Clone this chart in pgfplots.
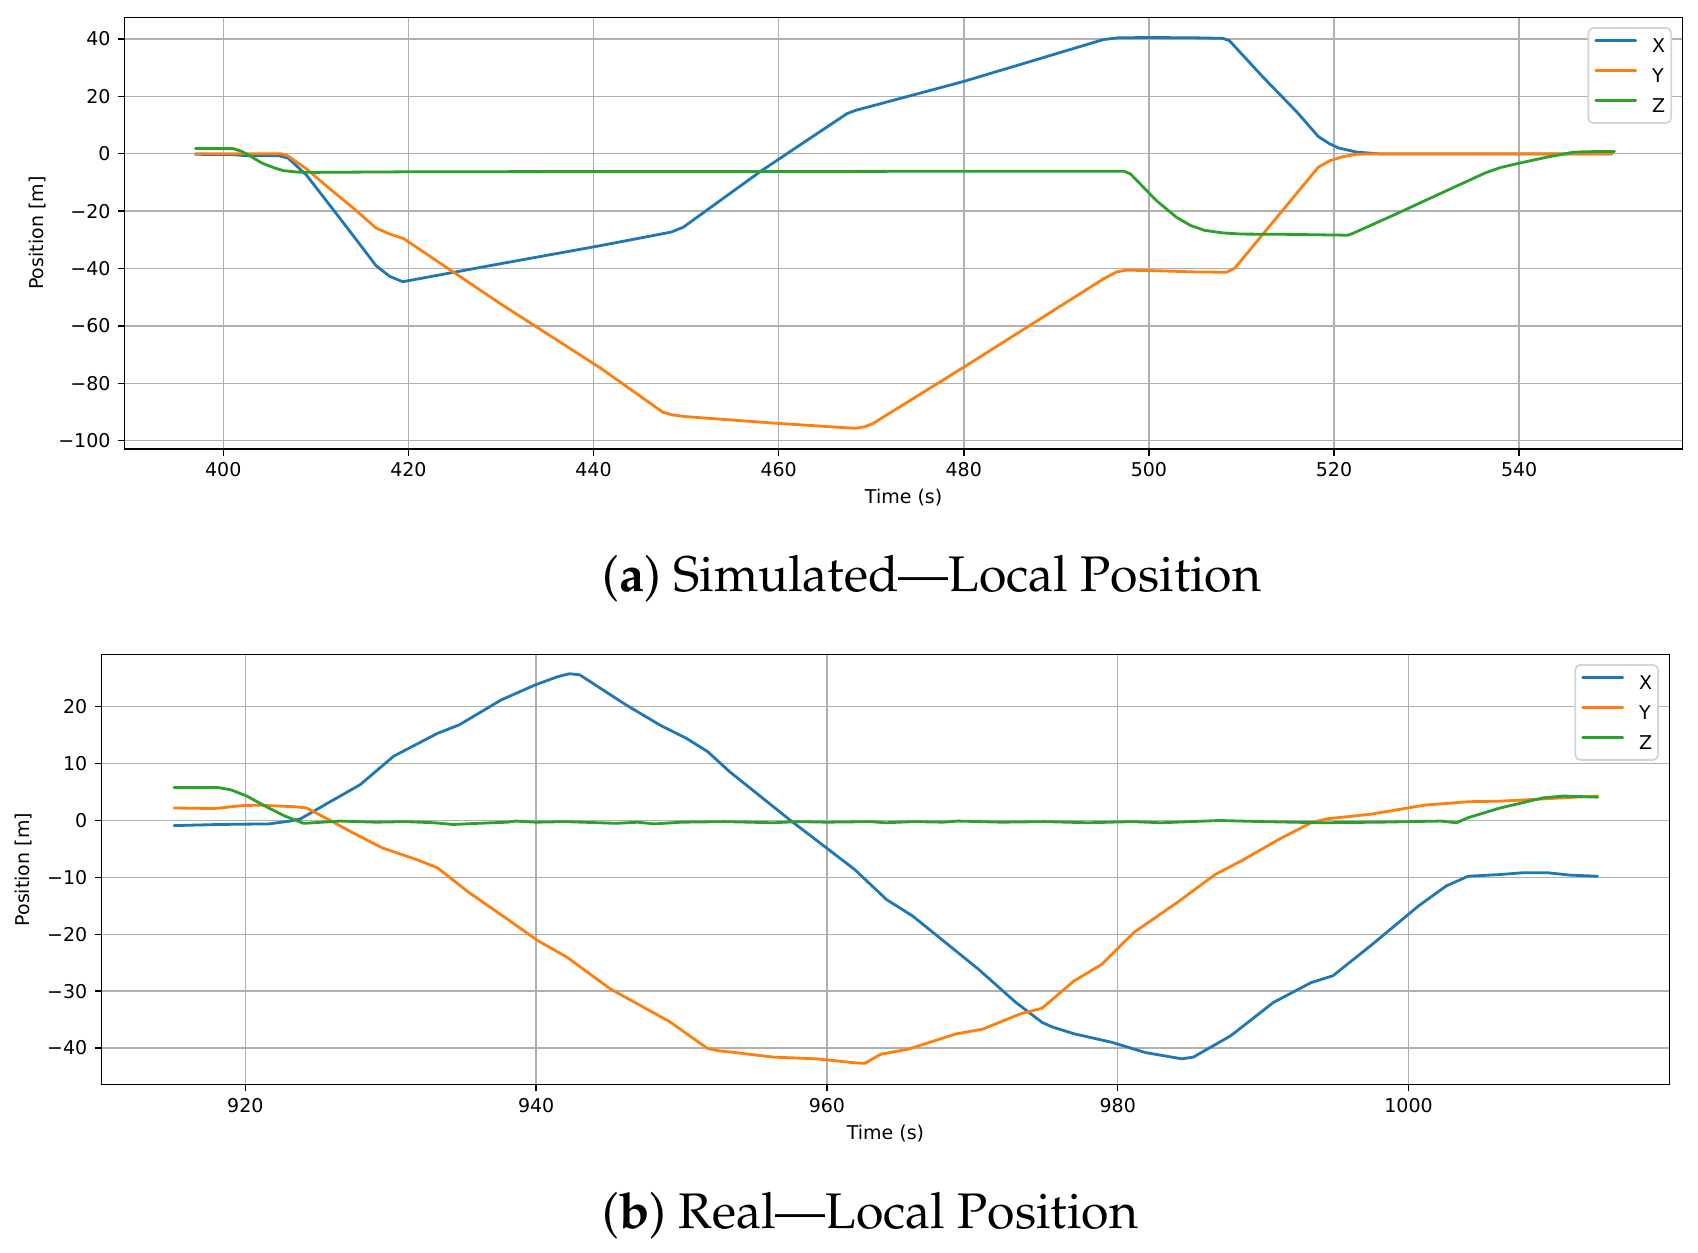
\documentclass[border=0pt]{standalone}
\usepackage[T1]{fontenc}
\usepackage{fontspec}
\usepackage{pgfplots}
\usepackage{pgfplotstable}
\pgfplotsset{compat=1.18}
\newfontfamily\dv{DejaVu Sans}
\definecolor{cX}{HTML}{1F77B4}
\definecolor{cY}{HTML}{FF7F0E}
\definecolor{cZ}{HTML}{2CA02C}
\definecolor{gridc}{HTML}{B0B0B0}
\definecolor{legc}{HTML}{D5D5D5}

\pgfplotstableread{
t v
397 -0.2
401 -0.3
402.5 -0.7
406 -0.7
407 -1.5
409 -7.5
412 -20.0
414.5 -30.5
416.5 -39.0
418 -42.8
419.4 -44.6
430 -38.3
440.8 -32.0
448.4 -27.3
449.7 -25.6
458.2 -5.8
467.4 14.0
468.3 15.1
480 25.2
495.1 39.8
496.7 40.4
500 40.5
505 40.4
508.0 40.2
508.7 39.4
512.3 26.8
516 14.5
518.3 6.0
519.5 3.5
520.5 2.0
522.4 0.6
525 -0.1
550 -0.1
}\simX

\pgfplotstableread{
t v
397 0
406.3 0
407 -0.8
409 -5.3
411.2 -11.4
414 -18.8
416.5 -25.9
418 -28.0
419.5 -29.6
430 -52.4
440.8 -74.8
447.5 -90.1
448.5 -91.0
449.9 -91.6
460 -94.0
468.3 -95.7
469.2 -95.2
470.1 -94.2
480 -74.4
495.1 -43.6
496.5 -41.2
497.5 -40.6
500 -40.7
505 -41.2
508.4 -41.3
509.3 -39.8
514 -21.5
518.3 -4.7
519.5 -2.5
521 -1.0
522.4 -0.2
525 0
550 0
}\simY

\pgfplotstableread{
t v
397 1.85
401 1.85
402 0.8
403 -1.0
404.2 -3.3
405.5 -4.9
406.5 -5.9
408 -6.4
410 -6.5
420 -6.3
440 -6.2
460 -6.2
480 -6.1
497.3 -6.1
498 -7.0
500.8 -16.3
503 -22.2
504.5 -25.0
506 -26.7
508 -27.6
510 -28.0
515 -28.1
521.5 -28.4
522 -27.8
526.5 -21.3
531 -14.6
536.4 -6.6
538 -4.8
540 -3.3
543 -1.2
545.8 0.5
547 0.7
550.3 0.8
}\simZ

\pgfplotstableread{
t v
915.1 -0.9
918.2 -0.7
921.6 -0.6
923.1 -0.1
923.8 0.3
925.7 3.1
927.9 6.3
930.2 11.3
933.2 15.3
934.7 16.8
937.6 21.2
939.9 23.8
941.5 25.3
942.3 25.8
943.0 25.6
946.2 20.3
948.5 16.8
950.3 14.5
951.8 12.1
953.3 8.6
957.4 0.2
961.9 -8.6
964.1 -13.9
965.9 -16.8
970.4 -26.1
973.0 -32.0
974.8 -35.5
975.5 -36.3
977 -37.5
979.6 -39.0
981.9 -40.8
984.4 -41.9
985.2 -41.6
987.8 -37.8
990.7 -32.0
993.3 -28.5
994.8 -27.3
997.4 -22.0
1000.7 -15.0
1002.6 -11.5
1004.1 -9.8
1006.3 -9.5
1007.8 -9.2
1009.6 -9.2
1011.1 -9.6
1013 -9.8
}\realX

\pgfplotstableread{
t v
915.1 2.2
917.9 2.1
919.7 2.6
920.9 2.7
923.5 2.4
924.2 2.2
925.7 0.2
927.2 -1.9
929.4 -4.8
931.7 -6.8
933.2 -8.3
935.4 -12.7
938 -17.3
940.1 -21.1
942.1 -24.0
945.1 -29.6
949.2 -35.4
951.8 -40.1
952.6 -40.5
953.7 -40.8
956.3 -41.6
959.3 -41.9
961.9 -42.6
962.6 -42.7
963.7 -41.1
965.6 -40.2
968.9 -37.5
970.7 -36.7
973.3 -34.0
974.8 -33.0
977 -28.2
978.9 -25.3
981.1 -19.7
984.1 -14.4
986.7 -9.5
988.5 -7.1
991.1 -3.3
993.3 -0.4
994.4 0.3
997.4 1.1
1001.1 2.7
1004.1 3.3
1006.3 3.4
1009.3 3.8
1013 4.3
}\realY

\pgfplotstableread{
t v
915.1 5.8
918.1 5.8
919 5.4
920.1 4.3
921.6 2.2
922.7 0.8
924 -0.5
925 -0.35
926.5 -0.1
929 -0.3
931 -0.2
933 -0.4
934.3 -0.7
936 -0.5
938 -0.3
938.6 -0.1
940 -0.3
942 -0.2
945.5 -0.5
947 -0.3
948.1 -0.6
950 -0.3
953 -0.2
956.3 -0.4
958 -0.2
960 -0.3
963 -0.2
964 -0.4
966 -0.2
968 -0.3
969 -0.1
972 -0.3
975 -0.2
978 -0.4
981 -0.2
983 -0.4
986 -0.1
987 0.0
990 -0.2
994 -0.4
998 -0.3
1002.2 -0.1
1003.3 -0.4
1004.1 0.5
1006.3 2.2
1007.8 3.1
1009.3 4.0
1010.7 4.3
1013 4.1
}\realZ

\pgfplotsset{
  mpl/.style={
    scale only axis, anchor=south west,
    axis line style={line width=0.75pt, black},
    grid=major, grid style={line width=0.75pt, color=gridc},
    tick align=outside, major tick length=3.3pt,
    every tick/.style={line width=0.75pt, black},
    xtick pos=bottom, ytick pos=left,
    ticklabel style={font=\dv\fontsize{9.5}{11}\selectfont},
    xticklabel style={anchor=north, inner sep=0pt, yshift=-3.2pt},
    yticklabel style={anchor=east, inner sep=0pt, xshift=-3.6pt},
    label style={font=\dv\fontsize{9.5}{11}\selectfont},
    xlabel style={at={(axis description cs:0.5,0)}, anchor=center, yshift=-24.5pt},
    legend style={anchor=north east, draw=legc, line width=0.9pt, rounded corners=2.5pt,
      fill=white, font=\dv\fontsize{9.5}{11}\selectfont,
      nodes={inner sep=0pt, text height=6.9pt, text depth=0pt},
      row sep=8.1pt, column sep=7.5pt, inner xsep=3pt, inner ysep=5.3pt},
    legend cell align=left,
    legend image code/.code={\draw[#1, line width=1.4pt] (0pt,2.6pt) -- (20pt,2.6pt);},
    every axis plot/.append style={line width=1.4pt, line join=round, line cap=round},
  }
}

\begin{document}
\begin{tikzpicture}
\useasboundingbox (0pt,0pt) rectangle (849pt,626.5pt);

\begin{axis}[mpl,
  at={(62.35pt,402pt)}, width=778.9pt, height=215.85pt,
  xmin=389.35, xmax=557.65, ymin=-102.9, ymax=47.55,
  xtick={400,420,440,460,480,500,520,540},
  xticklabels={400,420,440,460,480,500,520,540},
  ytick={-100,-80,-60,-40,-20,0,20,40},
  yticklabels={−100,−80,−60,−40,−20,0,20,40},
  xlabel={Time (s)}, ylabel={Position [m]},
  ylabel style={at={(axis description cs:0,0.5)}, anchor=center, yshift=43.35pt},
  legend style={at={(0.9933,0.9775)}},
]
\addplot[cX] table {\simX};
\addplot[cY] table {\simY};
\addplot[cZ] table {\simZ};
\legend{X,Y,Z}
\end{axis}

\node[anchor=base west, inner sep=0pt] at (301pt,330.5pt)
  {\fontencoding{T1}\fontfamily{ppl}\fontsize{25}{30}\selectfont (\textbf{a}) Simulated---Local Position};

\begin{axis}[mpl,
  at={(50.7pt,84.15pt)}, width=784.05pt, height=215pt,
  xmin=910.1, xmax=1017.95, ymin=-46.45, ymax=29.15,
  xtick={920,940,960,980,1000},
  xticklabels={920,940,960,980,1000},
  ytick={-40,-30,-20,-10,0,10,20},
  yticklabels={−40,−30,−20,−10,0,10,20},
  xlabel={Time (s)}, ylabel={Position [m]},
  ylabel style={at={(axis description cs:0,0.5)}, anchor=center, yshift=38.7pt},
  legend style={at={(0.9933,0.9784)}},
]
\addplot[cX] table {\realX};
\addplot[cY] table {\realY};
\addplot[cZ] table {\realZ};
\legend{X,Y,Z}
\end{axis}

\node[anchor=base west, inner sep=0pt] at (301pt,12pt)
  {\fontencoding{T1}\fontfamily{ppl}\fontsize{25}{30}\selectfont (\textbf{b}) Real---Local Position};
\end{tikzpicture}
\end{document}
